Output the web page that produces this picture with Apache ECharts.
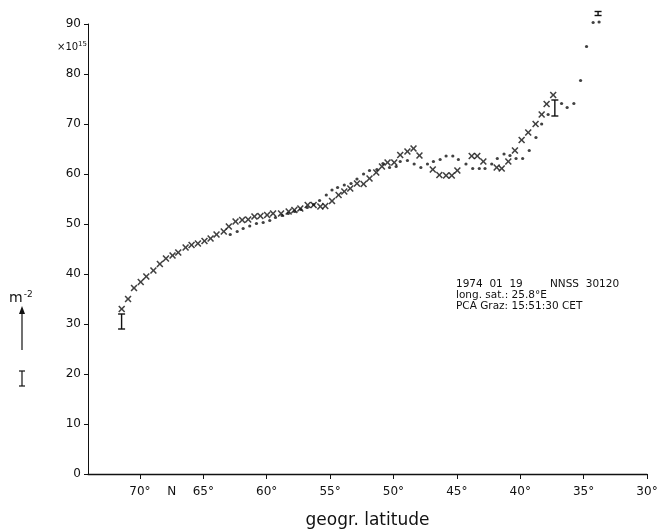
<!DOCTYPE html>
<html>
<head>
<meta charset="utf-8">
<script src="https://cdn.jsdelivr.net/npm/echarts@6/dist/echarts.min.js"></script>
<style>
html,body{margin:0;padding:0;background:#fff;}
#chart{width:663px;height:532px;}
</style>
</head>
<body>
<div id="chart"></div>
<script>
// latitude (deg N), electron content (x10^15 m^-2)
const crossLat = [71.44,70.94,70.47,69.94,69.50,68.94,68.43,67.95,67.43,66.98,66.40,65.93,65.43,64.91,64.43,63.96,63.39,62.99,62.46,61.94,61.46,60.97,60.50,59.97,59.50,58.87,58.27,57.82,57.35,56.77,56.30,55.77,55.38,54.85,54.33,53.88,53.41,52.88,52.36,51.89,51.36,50.91,50.47,49.94,49.47,48.90,48.42,47.95,46.90,46.38,45.85,45.40,44.96,43.83,43.39,42.91,41.86,41.46,40.94,40.42,39.89,39.37,38.79,38.31,37.92,37.40];
const crossVal = [33.0,35.0,37.2,38.4,39.5,40.7,42.0,43.1,43.7,44.3,45.3,45.8,46.1,46.6,47.1,47.9,48.5,49.5,50.5,50.8,50.9,51.5,51.6,51.8,52.1,52.1,52.5,52.8,53.1,53.8,53.8,53.5,53.6,54.6,55.8,56.5,57.1,58.1,58.0,59.1,60.3,61.5,62.3,62.3,63.8,64.5,65.1,63.7,60.9,59.8,59.7,59.7,60.7,63.6,63.6,62.5,61.3,61.1,62.5,64.7,66.8,68.3,70.0,71.9,74.0,75.8];

const dotLat = [62.88,62.33,61.86,61.34,60.81,60.28,59.76,59.31,58.79,58.30,57.80,57.30,56.80,56.30,55.83,55.30,54.85,54.41,53.88,53.35,52.88,52.36,51.89,51.31,50.83,50.31,49.79,49.47,48.90,48.37,47.84,47.32,46.85,46.32,45.85,45.32,44.88,44.28,43.75,43.23,42.78,42.25,41.81,41.28,40.81,40.33,39.81,39.29,38.76,38.31,37.80,36.74,36.30,35.77,35.24,34.77,34.25,33.78];
const dotVal = [47.9,48.5,49.1,49.6,50.1,50.3,50.7,51.3,51.7,52.1,52.5,52.9,53.3,53.9,54.7,55.8,56.8,57.3,57.8,58.1,59.0,60.0,60.7,60.9,62.1,61.3,61.5,62.5,62.7,62.0,61.3,62.0,62.5,62.9,63.6,63.6,62.9,62.0,61.1,61.1,61.1,62.0,63.1,64.0,63.7,63.1,63.1,64.7,67.3,70.0,71.9,74.1,73.3,74.1,78.7,85.5,90.3,90.4];

// error bars: latitude, low, high
const errLat = [71.45, 37.27, 33.86];
const errLow = [29.0, 71.6, 91.7];
const errHigh = [32.0, 74.8, 92.5];

const xTickValues = [70,65,60,55,50,45,40,35,30];
const xLabelValues = [70,67.5,65,60,55,50,45,40,35,30];
const yTicks = {min:0, max:90, interval:10};

const ink = '#111111';
const font = 'DejaVu Sans';

const crossData = crossLat.map((v,i)=>[v,crossVal[i]]);
const dotData = dotLat.map((v,i)=>[v,dotVal[i]]);
const errData = errLat.map((v,i)=>[v,errLow[i],errHigh[i]]);

const chart = echarts.init(document.getElementById('chart'), null, {renderer:'canvas'});
chart.setOption({
  backgroundColor:'#fff',
  animation:false,
  grid:{left:88, right:16, top:24, bottom:58, containLabel:false, outerBoundsMode:'none'},
  xAxis:{
    type:'value', inverse:true, min:30, max:74.1,
    name:'geogr. latitude', nameLocation:'middle', nameGap:38,
    nameTextStyle:{fontFamily:font, fontSize:17, color:ink},
    axisLine:{show:true, onZero:false, lineStyle:{color:ink, width:1.3}},
    axisTick:{show:true, inside:false, length:5, customValues:xTickValues, lineStyle:{color:ink}},
    axisLabel:{customValues:xLabelValues, margin:12, fontFamily:font, fontSize:12, color:ink,
      formatter:function(v){return v===67.5?'N':v+'°';}},
    splitLine:{show:false}
  },
  yAxis:{
    type:'value', min:yTicks.min, max:yTicks.max, interval:yTicks.interval,
    axisLine:{show:true, lineStyle:{color:ink, width:1}},
    axisTick:{show:true, inside:false, length:4, lineStyle:{color:ink}},
    axisLabel:{margin:7, fontFamily:font, fontSize:12, color:ink},
    splitLine:{show:false}
  },
  series:[
    {
      type:'scatter', name:'x', data:crossData, clip:false,
      symbol:'path://M0,1.6L1.6,0L5,3.4L8.4,0L10,1.6L6.6,5L10,8.4L8.4,10L5,6.6L1.6,10L0,8.4L3.4,5Z',
      symbolSize:7, itemStyle:{color:ink}
    },
    {
      type:'scatter', name:'dot', data:dotData, clip:false,
      symbol:'circle', symbolSize:3.2, itemStyle:{color:ink}
    },
    {
      type:'custom', name:'err', data:errData, clip:false,
      renderItem:function(params, api){
        const p1 = api.coord([api.value(0), api.value(1)]);
        const p2 = api.coord([api.value(0), api.value(2)]);
        const w = 3.5;
        const st = {stroke:ink, lineWidth:1.4};
        return {type:'group', children:[
          {type:'line', shape:{x1:p1[0],y1:p1[1],x2:p2[0],y2:p2[1]}, style:st},
          {type:'line', shape:{x1:p1[0]-w,y1:p1[1],x2:p1[0]+w,y2:p1[1]}, style:st},
          {type:'line', shape:{x1:p2[0]-w,y1:p2[1],x2:p2[0]+w,y2:p2[1]}, style:st}
        ]};
      }
    }
  ],
  graphic:[
    {type:'text', left:57, top:41, style:{
      text:'{a|×10}{b|15}', rich:{a:{fontFamily:font,fontSize:10,fill:ink}, b:{fontFamily:font,fontSize:7,fill:ink,verticalAlign:'top',padding:[0,0,6,0]}}
    }},
    {type:'text', left:9, top:290, style:{
      text:'{a|m}{b|-2}', rich:{a:{fontFamily:font,fontSize:14,fill:ink}, b:{fontFamily:font,fontSize:9,fill:ink,padding:[0,0,8,1]}}
    }},
    {type:'line', shape:{x1:22,y1:350,x2:22,y2:312}, style:{stroke:ink, lineWidth:1.2}},
    {type:'polygon', shape:{points:[[22,306],[19,314],[25,314]]}, style:{fill:ink}},
    {type:'line', shape:{x1:22,y1:371,x2:22,y2:386}, style:{stroke:ink, lineWidth:1.2}},
    {type:'line', shape:{x1:19,y1:371,x2:25,y2:371}, style:{stroke:ink, lineWidth:1.2}},
    {type:'line', shape:{x1:19,y1:386,x2:25,y2:386}, style:{stroke:ink, lineWidth:1.2}},
    {type:'text', left:456, top:279, style:{text:'1974  01  19', fontFamily:font, fontSize:10.5, fill:ink}},
    {type:'text', left:550, top:279, style:{text:'NNSS  30120', fontFamily:font, fontSize:10.5, fill:ink}},
    {type:'text', left:456, top:290, style:{text:'long. sat.: 25.8°E', fontFamily:font, fontSize:10.5, fill:ink}},
    {type:'text', left:456, top:301, style:{text:'PCA Graz: 15:51:30 CET', fontFamily:font, fontSize:10.5, fill:ink}}
  ]
});
</script>
</body>
</html>
